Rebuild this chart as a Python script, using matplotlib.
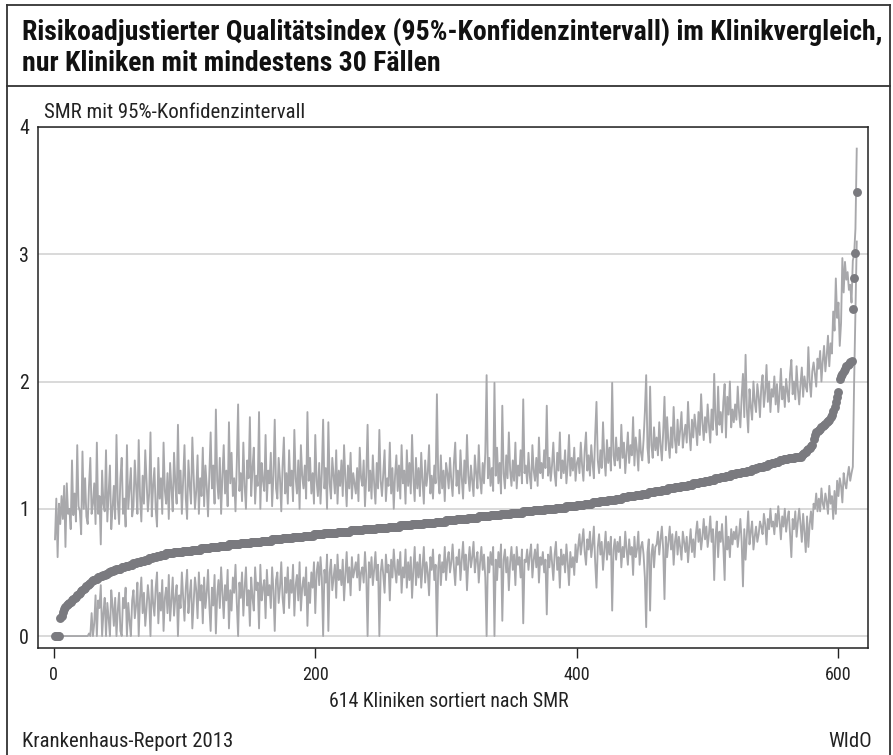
import os
import numpy as np
import matplotlib
matplotlib.use("Agg")
import matplotlib.pyplot as plt
import matplotlib.font_manager as fm
from matplotlib.lines import Line2D

# ---------------- data (values x100) ----------------
smr_x100 = [
    0, 0, 0, 0, 14, 16, 19, 21, 23, 24,
    25, 26, 27, 28, 29, 30, 31, 32, 33, 34,
    35, 36, 37, 38, 39, 40, 41, 42, 43, 44,
    44, 45, 45, 46, 46, 47, 47, 48, 48, 49,
    49, 50, 50, 51, 51, 52, 52, 53, 53, 53,
    53, 54, 54, 54, 55, 55, 55, 56, 56, 56,
    57, 57, 57, 58, 58, 58, 59, 59, 59, 60,
    60, 60, 61, 61, 61, 62, 62, 62, 63, 63,
    63, 64, 64, 64, 64, 65, 65, 65, 65, 65,
    65, 66, 66, 66, 66, 66, 66, 66, 67, 67,
    67, 67, 67, 67, 67, 68, 68, 68, 68, 68,
    68, 68, 69, 69, 69, 69, 69, 69, 69, 70,
    70, 70, 70, 70, 70, 70, 71, 71, 71, 71,
    71, 71, 71, 72, 72, 72, 72, 72, 72, 72,
    72, 72, 73, 73, 73, 73, 73, 73, 73, 73,
    74, 74, 74, 74, 74, 74, 74, 74, 75, 75,
    75, 75, 75, 75, 75, 75, 76, 76, 76, 76,
    76, 76, 76, 76, 77, 77, 77, 77, 77, 77,
    77, 77, 78, 78, 78, 78, 78, 78, 78, 78,
    79, 79, 79, 79, 79, 79, 79, 79, 80, 80,
    80, 80, 80, 80, 80, 80, 81, 81, 81, 81,
    81, 81, 81, 81, 81, 81, 82, 82, 82, 82,
    82, 82, 82, 82, 82, 82, 83, 83, 83, 83,
    83, 83, 83, 83, 83, 83, 84, 84, 84, 84,
    84, 84, 84, 84, 84, 84, 85, 85, 85, 85,
    85, 85, 85, 85, 85, 86, 86, 86, 86, 86,
    86, 86, 86, 86, 87, 87, 87, 87, 87, 87,
    87, 87, 87, 88, 88, 88, 88, 88, 88, 88,
    88, 88, 89, 89, 89, 89, 89, 89, 89, 89,
    89, 90, 90, 90, 90, 90, 90, 90, 90, 91,
    91, 91, 91, 91, 91, 91, 91, 92, 92, 92,
    92, 92, 92, 92, 92, 92, 93, 93, 93, 93,
    93, 93, 93, 93, 94, 94, 94, 94, 94, 94,
    94, 94, 94, 95, 95, 95, 95, 95, 95, 95,
    95, 96, 96, 96, 96, 96, 96, 96, 96, 97,
    97, 97, 97, 97, 97, 97, 97, 97, 98, 98,
    98, 98, 98, 98, 98, 98, 99, 99, 99, 99,
    99, 99, 99, 99, 99, 100, 100, 100, 100, 100,
    100, 100, 100, 101, 101, 101, 101, 101, 101, 101,
    101, 102, 102, 102, 102, 102, 102, 102, 102, 103,
    103, 103, 103, 103, 103, 104, 104, 104, 104, 104,
    104, 105, 105, 105, 105, 105, 105, 106, 106, 106,
    106, 106, 106, 107, 107, 107, 107, 107, 107, 108,
    108, 108, 108, 108, 109, 109, 109, 109, 110, 110,
    110, 110, 110, 110, 111, 111, 111, 111, 111, 112,
    112, 112, 112, 112, 113, 113, 113, 113, 113, 114,
    114, 114, 114, 114, 115, 115, 115, 115, 115, 116,
    116, 116, 116, 116, 117, 117, 117, 117, 117, 118,
    118, 118, 118, 118, 119, 119, 119, 119, 120, 120,
    120, 120, 120, 121, 121, 121, 121, 122, 122, 122,
    122, 123, 123, 123, 123, 124, 124, 124, 124, 125,
    125, 125, 125, 126, 126, 126, 126, 127, 127, 127,
    127, 128, 128, 128, 128, 129, 129, 129, 129, 130,
    130, 130, 130, 131, 131, 131, 132, 132, 133, 133,
    133, 133, 134, 134, 134, 135, 135, 135, 136, 136,
    136, 137, 137, 137, 138, 138, 138, 139, 139, 139,
    139, 140, 140, 140, 140, 140, 141, 141, 141, 141,
    141, 142, 143, 144, 145, 146, 147, 148, 149, 150,
    155, 158, 160, 161, 162, 163, 164, 165, 166, 167,
    168, 169, 170, 172, 174, 177, 180, 184, 188, 192,
    202, 204, 206, 208, 210, 212, 213, 214, 215, 216,
    257, 281, 301, 349,
]

upper_x100 = [
    76, 108, 62, 104, 88, 110, 92, 118, 70, 120,
    96, 100, 84, 138, 95, 112, 90, 150, 102, 98,
    80, 145, 100, 124, 94, 88, 118, 140, 96, 104,
    120, 88, 152, 96, 110, 72, 130, 104, 98, 146,
    90, 112, 134, 84, 100, 118, 92, 158, 106, 88,
    124, 140, 96, 108, 86, 150, 100, 116, 132, 94,
    102, 138, 118, 96, 154, 110, 90, 126, 104, 146,
    122, 98, 112, 160, 94, 118, 132, 100, 86, 140,
    108, 124, 96, 152, 114, 104, 128, 92, 136, 116,
    98, 144, 120, 104, 166, 112, 130, 96, 122, 150,
    108, 92, 138, 118, 104, 156, 126, 100, 114, 142,
    96, 124, 110, 148, 102, 134, 118, 94, 128, 160,
    116, 134, 104, 178, 122, 108, 140, 96, 126, 150,
    112, 130, 102, 168, 120, 144, 110, 124, 98, 136,
    182, 114, 128, 106, 152, 118, 100, 138, 124, 172,
    110, 132, 148, 104, 126, 118, 176, 100, 136, 122,
    114, 158, 106, 130, 120, 144, 102, 126, 170, 116,
    108, 140, 124, 98, 134, 156, 112, 128, 104, 146,
    118, 130, 106, 162, 124, 112, 138, 100, 150, 126,
    116, 134, 108, 176, 122, 140, 112, 128, 104, 158,
    122, 110, 136, 104, 128, 170, 116, 132, 100, 168,
    120, 108, 140, 126, 112, 146, 104, 130, 118, 138,
    110, 150, 124, 102, 134, 116, 144, 108, 128, 120,
    112, 132, 106, 148, 124, 118, 138, 102, 126, 166,
    114, 130, 108, 142, 120, 104, 136, 116, 162, 122,
    110, 128, 146, 106, 124, 118, 152, 112, 132, 100,
    126, 142, 114, 134, 108, 150, 120, 130, 104, 146,
    118, 136, 112, 158, 124, 106, 140, 116, 132, 110,
    144, 122, 104, 138, 118, 128, 150, 112, 126, 108,
    134, 120, 190, 124, 112, 142, 116, 130, 106, 136,
    128, 116, 140, 122, 110, 136, 152, 118, 130, 112,
    146, 124, 108, 138, 120, 158, 126, 114, 134, 122,
    110, 142, 128, 116, 150, 124, 112, 136, 120, 144,
    205, 124, 140, 118, 132, 114, 199, 126, 148, 120,
    136, 112, 181, 128, 116, 142, 124, 160, 130, 118,
    138, 122, 152, 116, 134, 126, 146, 120, 186, 128,
    134, 120, 144, 126, 116, 150, 130, 122, 140, 118,
    156, 128, 136, 124, 146, 132, 181, 126, 140, 122,
    134, 152, 128, 118, 144, 130, 160, 124, 138, 128,
    146, 120, 134, 158, 126, 140, 130, 148, 122, 136,
    140, 128, 152, 134, 122, 146, 160, 130, 142, 126,
    150, 136, 124, 158, 184, 138, 128, 146, 132, 168,
    140, 126, 154, 136, 148, 130, 199, 142, 134, 156,
    138, 148, 132, 166, 140, 152, 128, 144, 160, 136,
    150, 142, 172, 134, 156, 146, 130, 162, 144, 138,
    154, 176, 205, 148, 136, 196, 150, 140, 164, 146,
    156, 142, 168, 150, 138, 160, 188, 146, 172, 152,
    140, 164, 148, 180, 154, 144, 170, 150, 162, 176,
    148, 158, 166, 152, 184, 160, 146, 170, 156, 174,
    164, 150, 176, 158, 190, 168, 154, 172, 160, 182,
    166, 152, 178, 162, 206, 170, 158, 196, 166, 176,
    160, 184, 198, 156, 188, 174, 200, 164, 178, 168,
    182, 170, 196, 176, 164, 188, 206, 172, 221, 178,
    160, 194, 180, 170, 200, 184, 176, 198, 188, 172,
    196, 205, 180, 192, 213, 184, 200, 176, 194, 188,
    204, 182, 198, 176, 190, 210, 186, 196, 180, 202,
    192, 184, 206, 217, 190, 200, 186, 212, 194, 182,
    198, 211, 188, 204, 196, 192, 227, 200, 188, 208,
    215, 206, 196, 218, 210, 224, 200, 216, 228, 208,
    220, 236, 212, 230, 222, 255, 240, 281, 250, 262,
    228, 246, 297, 270, 294, 280, 286, 272, 276, 262,
    295, 300, 320, 383,
]

lower_x100 = [
    0, 0, 0, 0, 0, 0, 0, 0, 0, 0,
    0, 0, 0, 0, 0, 0, 0, 0, 0, 0,
    0, 0, 0, 0, 0, 0, 2, 0, 18, 0,
    10, 32, 0, 28, 22, 40, 0, 18, 30, 0,
    26, 14, 0, 36, 24, 8, 30, 0, 20, 34,
    4, 0, 30, 22, 38, 0, 26, 12, 0, 28,
    36, 14, 24, 42, 0, 30, 46, 18, 34, 8,
    22, 40, 28, 0, 44, 26, 16, 38, 50, 10,
    34, 20, 44, 4, 30, 38, 18, 48, 12, 28,
    46, 16, 30, 40, 0, 32, 22, 50, 30, 12,
    38, 52, 18, 32, 44, 6, 26, 46, 36, 14,
    50, 28, 40, 10, 46, 22, 34, 52, 24, 4,
    38, 24, 48, 2, 32, 44, 22, 54, 34, 14,
    40, 28, 52, 6, 36, 20, 46, 34, 56, 26,
    0, 42, 30, 50, 16, 38, 54, 24, 36, 8,
    46, 30, 20, 54, 36, 42, 6, 56, 28, 38,
    44, 14, 52, 32, 40, 22, 54, 36, 4, 44,
    50, 26, 38, 58, 30, 18, 46, 34, 54, 22,
    44, 34, 56, 16, 40, 48, 28, 58, 20, 38,
    46, 32, 54, 8, 42, 26, 50, 38, 58, 18,
    50, 58, 40, 62, 46, 0, 52, 42, 64, 4,
    50, 60, 36, 46, 56, 30, 64, 44, 52, 40,
    60, 28, 48, 66, 42, 54, 32, 62, 46, 52,
    58, 46, 64, 36, 50, 54, 42, 66, 48, 0,
    58, 46, 62, 40, 52, 66, 44, 56, 0, 50,
    60, 48, 34, 64, 50, 56, 28, 60, 46, 68,
    52, 42, 60, 48, 66, 34, 54, 46, 68, 38,
    58, 44, 62, 30, 52, 70, 40, 58, 46, 64,
    38, 54, 70, 42, 58, 50, 32, 62, 52, 68,
    44, 56, 0, 54, 64, 40, 58, 50, 70, 44,
    60, 66, 50, 58, 72, 54, 40, 62, 56, 68,
    44, 60, 74, 52, 64, 36, 58, 70, 54, 62,
    74, 50, 60, 66, 42, 58, 70, 52, 64, 46,
    0, 62, 50, 66, 56, 70, 0, 60, 44, 66,
    54, 72, 12, 60, 68, 50, 62, 36, 58, 70,
    52, 64, 40, 70, 56, 62, 46, 68, 10, 60,
    58, 68, 52, 64, 72, 46, 60, 68, 54, 72,
    42, 62, 56, 66, 50, 60, 17, 64, 54, 70,
    58, 44, 64, 74, 52, 62, 38, 68, 56, 64,
    50, 72, 58, 40, 66, 54, 62, 48, 72, 58,
    70, 80, 64, 74, 84, 66, 56, 76, 68, 82,
    62, 72, 86, 58, 38, 70, 80, 64, 74, 52,
    68, 82, 60, 74, 64, 78, 20, 68, 76, 60,
    74, 66, 78, 54, 70, 62, 82, 68, 56, 76,
    64, 70, 48, 78, 62, 68, 82, 56, 70, 74,
    64, 46, 7, 66, 76, 20, 64, 72, 54, 70,
    72, 82, 64, 76, 86, 68, 29, 78, 62, 74,
    86, 68, 80, 56, 74, 82, 64, 78, 70, 60,
    82, 74, 66, 78, 58, 72, 84, 66, 76, 62,
    80, 90, 74, 84, 68, 78, 92, 76, 86, 70,
    80, 94, 74, 84, 44, 78, 90, 62, 82, 74,
    88, 70, 44, 94, 68, 78, 62, 84, 72, 82,
    76, 86, 70, 80, 92, 74, 39, 84, 60, 80,
    98, 72, 82, 90, 68, 78, 86, 74, 80, 90,
    86, 80, 96, 88, 72, 92, 84, 100, 86, 90,
    80, 96, 86, 102, 90, 76, 94, 86, 100, 82,
    92, 98, 80, 62, 92, 84, 98, 78, 90, 100,
    88, 74, 96, 82, 66, 94, 70, 88, 98, 84,
    104, 100, 112, 98, 108, 98, 116, 104, 100, 112,
    106, 96, 118, 104, 110, 92, 114, 96, 122, 110,
    124, 118, 105, 128, 120, 116, 126, 133, 122, 128,
    133, 200, 255, 310,
]

y_ticks = [0, 1, 2, 3, 4]
x_ticks = [0, 200, 400, 600]

title_line1 = "Risikoadjustierter Qualitätsindex (95%-Konfidenzintervall) im Klinikvergleich,"
title_line2 = "nur Kliniken mit mindestens 30 Fällen"
ylabel_text = "SMR mit 95%-Konfidenzintervall"
xlabel_text = "614 Kliniken sortiert nach SMR"
source_left = "Krankenhaus-Report 2013"
source_right = "WIdO"

assert len(smr_x100) == len(upper_x100) == len(lower_x100) == 614, (
    len(smr_x100), len(upper_x100), len(lower_x100))

smr = np.array(smr_x100) / 100.0
upper = np.array(upper_x100) / 100.0
lower = np.array(lower_x100) / 100.0
rank = np.arange(1, len(smr) + 1)

# ---------------- font choice: a condensed sans if one is installed ----------------
def pick_condensed():
    found = {}
    for f in fm.fontManager.ttflist:
        base = os.path.basename(f.fname).lower()
        if 'mono' in base or 'serif' in base or 'italic' in base or 'oblique' in base:
            continue
        if 'extracondensed' in base or 'semicondensed' in base or 'ultracondensed' in base:
            continue
        if 'condensed' in base or 'narrow' in base:
            w = f.weight if isinstance(f.weight, int) else {'normal': 400, 'regular': 400, 'bold': 700}.get(str(f.weight), 400)
            fam = f.name
            d = found.setdefault(fam, {})
            if w in (400, 'normal'):
                d.setdefault('regular', f.fname)
            if w == 700 or 'bold' in base:
                if 'semibold' not in base and 'extrabold' not in base:
                    d.setdefault('bold', f.fname)
    for pref in ['Roboto Condensed', 'Open Sans Condensed', 'Noto Sans',
                 'Noto Sans Condensed', 'DejaVu Sans', 'DejaVu Sans Condensed',
                 'Liberation Sans Narrow']:
        d = found.get(pref)
        if d and 'regular' in d and 'bold' in d:
            return fm.FontProperties(fname=d['regular']), fm.FontProperties(fname=d['bold'])
    for fam, d in found.items():
        if 'regular' in d and 'bold' in d:
            return fm.FontProperties(fname=d['regular']), fm.FontProperties(fname=d['bold'])
    return (fm.FontProperties(family=['Roboto', 'DejaVu Sans']),
            fm.FontProperties(family=['Roboto', 'DejaVu Sans'], weight='bold'))

FP_REG, FP_BOLD = pick_condensed()

W, H = 893, 755
fig = plt.figure(figsize=(W / 100, H / 100), dpi=100)
renderer = fig.canvas.get_renderer()

def fx(px):
    return px / W

def fy(py):
    return 1 - py / H

def fit_size(text, fp, target_px, start=12.0, max_size=None):
    t = fig.text(0, 0, text, fontproperties=fp, fontsize=start)
    w = t.get_window_extent(renderer).width
    t.remove()
    s = start * target_px / w
    if max_size is not None:
        s = min(s, max_size)
    return s

ax = fig.add_axes([fx(38), fy(648), fx(868) - fx(38), fy(127) - fy(648)])

ci_col = '#a8a8ab'
pt_col = '#7a7a7f'
ax.plot(rank, upper, color=ci_col, lw=1.35, zorder=2)
ax.plot(rank, lower, color=ci_col, lw=1.35, zorder=2)
ax.plot(rank, smr, 'o', ms=6.4, color=pt_col, mec='none', zorder=3)

ax.set_xlim(-12, 622.6)
ax.set_ylim(-0.094, 4.0)
ax.set_yticks(y_ticks)
ax.set_xticks(x_ticks)

tick_size = fit_size("200", FP_REG, 26.5, max_size=14.5)
ytick_size = fit_size("200", FP_REG, 29, max_size=15)
ax.tick_params(axis='y', length=0, pad=6.5, colors='#222222')
ax.tick_params(axis='x', length=7, width=1, direction='out', pad=6,
               colors='#222222')
for lab in ax.get_xticklabels():
    lab.set_fontproperties(FP_REG)
    lab.set_fontsize(tick_size)
for lab in ax.get_yticklabels():
    lab.set_fontproperties(FP_REG)
    lab.set_fontsize(ytick_size)

ax.grid(axis='y', color='#cfcfcf', lw=1.1)
ax.set_axisbelow(True)
for sp in ax.spines.values():
    sp.set_color('#222222')
    sp.set_linewidth(1.1)

# texts
title_size = fit_size(title_line1, FP_BOLD, 862)
fig.text(fx(22), fy(39.5), title_line1, fontproperties=FP_BOLD, fontsize=title_size,
         ha='left', va='baseline', color='#111111')
fig.text(fx(22), fy(71), title_line2, fontproperties=FP_BOLD, fontsize=title_size,
         ha='left', va='baseline', color='#111111')

sub_size = fit_size(ylabel_text, FP_REG, 263, max_size=15)
fig.text(fx(43.5), fy(118), ylabel_text, fontproperties=FP_REG, fontsize=sub_size,
         ha='left', va='baseline', color='#222222')

xl_size = fit_size(xlabel_text, FP_REG, 240, max_size=15)
fig.text(fx(449), fy(707), xlabel_text, fontproperties=FP_REG, fontsize=xl_size,
         ha='center', va='baseline', color='#222222')

src_size = fit_size(source_left, FP_REG, 210, max_size=15)
fig.text(fx(22.5), fy(747), source_left, fontproperties=FP_REG, fontsize=src_size,
         ha='left', va='baseline', color='#222222')
fig.text(fx(872), fy(747), source_right, fontproperties=FP_REG, fontsize=src_size,
         ha='right', va='baseline', color='#222222')

# frame lines
lc = '#333333'
fig.add_artist(Line2D([fx(7), fx(7)], [fy(5), fy(755)], color=lc, lw=1.3))
fig.add_artist(Line2D([fx(890), fx(890)], [fy(5), fy(755)], color=lc, lw=1.3))
fig.add_artist(Line2D([fx(7), fx(890)], [fy(5), fy(5)], color=lc, lw=1.3))
fig.add_artist(Line2D([fx(7), fx(890)], [fy(86), fy(86)], color=lc, lw=1.3))

fig.savefig("out.png", dpi=100)
